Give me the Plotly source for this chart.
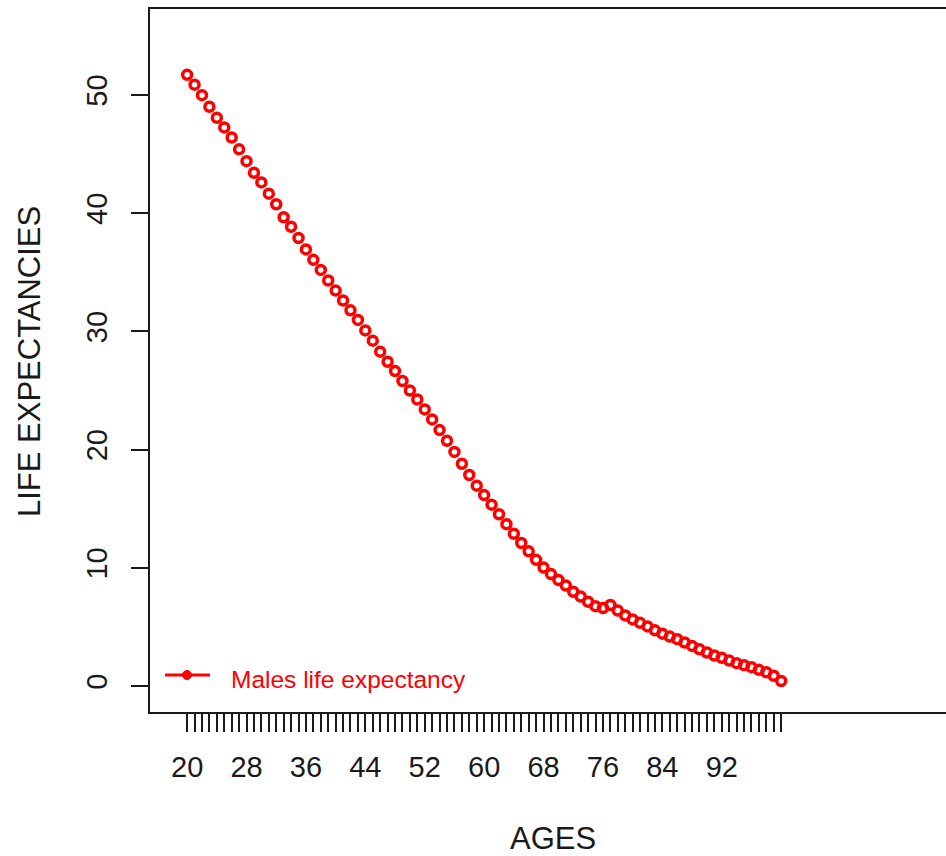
import plotly.graph_objects as go

# Male life expectancy by age
ages = list(range(20, 101))
life_expectancy = [
    51.70, 50.87, 49.98, 49.00, 48.07, 47.25, 46.40, 45.40, 44.40, 43.42,
    42.60, 41.65, 40.75, 39.65, 38.85, 37.90, 36.93, 36.05, 35.20, 34.30,
    33.45, 32.61, 31.78, 30.97, 30.08, 29.21, 28.28, 27.43, 26.64, 25.80,
    25.00, 24.24, 23.40, 22.55, 21.65, 20.75, 19.80, 18.80, 17.85, 16.95,
    16.15, 15.34, 14.53, 13.69, 12.88, 12.10, 11.39, 10.67, 10.02, 9.47,
    8.97, 8.50, 7.97, 7.57, 7.13, 6.75, 6.60, 6.85, 6.38, 5.97,
    5.63, 5.34, 5.04, 4.71, 4.43, 4.18, 3.96, 3.68, 3.39, 3.11,
    2.83, 2.58, 2.38, 2.15, 1.93, 1.76, 1.59, 1.37, 1.17, 0.87,
    0.42,
]
y_ticks = [0, 10, 20, 30, 40, 50]
x_label_every = 8

series_name = "Males life expectancy"
x_title = "AGES"
y_title = "LIFE EXPECTANCIES"

RED = "#FF0000"
INK = "#1a1a1a"
FONT = "Liberation Sans, Arial, sans-serif"

W, H = 946, 856
ML, MR, MT, MB = 150, 0, 9, 144
PW, PH = W - ML - MR, H - MT - MB


def px(x):
    return (x - ML) / PW


def py(y):
    return (H - MB - y) / PH


x_ticktext = [str(a) if (a - ages[0]) % x_label_every == 0 and a < ages[-1] else "" for a in ages]

fig = go.Figure()
fig.add_trace(go.Scatter(
    x=ages,
    y=life_expectancy,
    mode="markers",
    marker=dict(symbol="circle-open", size=9, color=RED,
                line=dict(color=RED, width=3.5)),
    name=series_name,
    showlegend=False,
    hoverinfo="x+y",
))

fig.update_layout(
    width=W, height=H,
    margin=dict(l=ML, r=MR, t=MT, b=MB, pad=0),
    paper_bgcolor="white",
    plot_bgcolor="white",
    font=dict(family=FONT, size=28, color=INK),
    showlegend=False,
    xaxis=dict(
        range=[15.0, 122.2],
        tickmode="array",
        tickvals=ages,
        ticktext=x_ticktext,
        ticks="outside",
        ticklen=18,
        tickwidth=1.5,
        tickcolor=INK,
        showgrid=False,
        zeroline=False,
        showline=True,
        linecolor=INK,
        linewidth=2,
        mirror=True,
        ticklabelstandoff=10,
        tickfont=dict(size=29),
    ),
    yaxis=dict(
        range=[-2.2, 57.27],
        tickmode="array",
        tickvals=y_ticks,
        ticktext=[str(v) for v in y_ticks],
        tickangle=-90,
        ticks="outside",
        ticklen=17,
        tickwidth=1.5,
        tickcolor=INK,
        showgrid=False,
        zeroline=False,
        showline=True,
        linecolor=INK,
        linewidth=2,
        mirror=False,
        ticklabelstandoff=12,
        tickfont=dict(size=29),
    ),
)

# Axis titles
fig.add_annotation(text=x_title, xref="paper", yref="paper",
                   x=px(553), y=py(838), showarrow=False,
                   xanchor="center", yanchor="middle",
                   font=dict(size=31, color=INK))
fig.add_annotation(text=y_title, xref="paper", yref="paper",
                   x=px(29), y=py(362), showarrow=False, textangle=-90,
                   xanchor="center", yanchor="middle",
                   font=dict(size=31, color=INK))

# Legend (no box): line with a filled dot, then the label
fig.add_shape(type="line", xref="paper", yref="paper",
              x0=px(165), x1=px(210), y0=py(675), y1=py(675),
              line=dict(color=RED, width=3))
fig.add_shape(type="circle", xref="paper", yref="paper",
              x0=px(182.5), x1=px(191.5), y0=py(679.5), y1=py(670.5),
              line=dict(color=RED, width=1), fillcolor=RED)
fig.add_annotation(text=series_name, xref="paper", yref="paper",
                   x=px(229), y=py(679), showarrow=False,
                   xanchor="left", yanchor="middle",
                   font=dict(size=24.5, color=RED))

fig.write_html("out.html")
